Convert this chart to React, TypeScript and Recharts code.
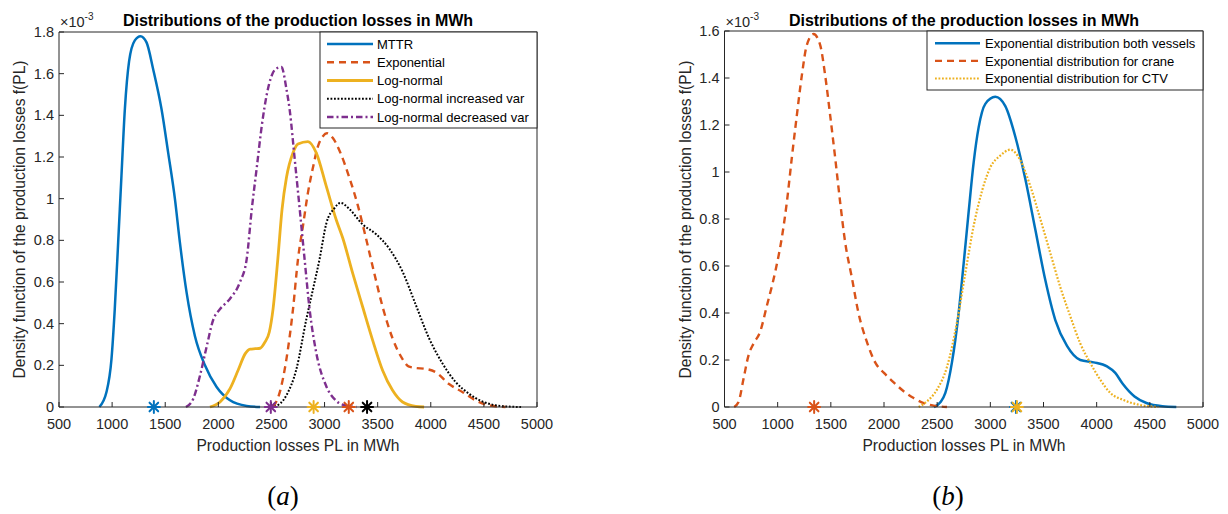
import React from "react";
import { ComposedChart, Line, Scatter, XAxis, YAxis } from "recharts";

type Pt = [number, number];

// x ticks shared by both panels, y ticks per panel (values are in units of 1e-3)
const xTicks = [500, 1000, 1500, 2000, 2500, 3000, 3500, 4000, 4500, 5000];
const yTicksA = [0, 0.2, 0.4, 0.6, 0.8, 1, 1.2, 1.4, 1.6, 1.8];
const yTicksB = [0, 0.2, 0.4, 0.6, 0.8, 1, 1.2, 1.4, 1.6];

// panel (a)
const mttr: Pt[] = [
  [880, 0], [947, 0.072], [994, 0.23], [1025, 0.47], [1057, 0.79], [1088, 1.11], [1120, 1.43],
  [1160, 1.66], [1214, 1.76], [1267, 1.78], [1324, 1.75], [1387, 1.62], [1465, 1.43], [1528, 1.22],
  [1591, 1.0], [1638, 0.79], [1701, 0.55], [1780, 0.34], [1874, 0.2], [1984, 0.096], [2110, 0.032],
  [2267, 0.005], [2393, 0],
];
const expo: Pt[] = [
  [2516, 0], [2578, 0.07], [2641, 0.23], [2703, 0.47], [2750, 0.71], [2797, 0.87], [2844, 1.03],
  [2891, 1.15], [2937, 1.25], [2985, 1.3], [3022, 1.314], [3080, 1.29], [3141, 1.23], [3234, 1.1],
  [3312, 0.97], [3390, 0.81], [3469, 0.64], [3547, 0.48], [3640, 0.33], [3734, 0.23], [3790, 0.195],
  [3850, 0.188], [3953, 0.183], [4047, 0.167], [4172, 0.11], [4297, 0.072], [4422, 0.032],
  [4547, 0.008], [4703, 0],
];
const logn: Pt[] = [
  [1921, 0], [2016, 0.024], [2110, 0.088], [2189, 0.18], [2252, 0.255], [2300, 0.278], [2350, 0.28],
  [2393, 0.282], [2437, 0.31], [2480, 0.36], [2515, 0.47], [2560, 0.71], [2600, 0.95], [2641, 1.1],
  [2703, 1.22], [2750, 1.262], [2844, 1.274], [2922, 1.22], [3016, 1.06], [3109, 0.9], [3172, 0.81],
  [3266, 0.64], [3359, 0.48], [3453, 0.32], [3547, 0.175], [3640, 0.08], [3734, 0.024],
  [3859, 0.003], [3937, 0],
];
const lognInc: Pt[] = [
  [2531, 0], [2641, 0.056], [2734, 0.18], [2828, 0.42], [2891, 0.565], [2953, 0.71], [3016, 0.88],
  [3094, 0.955], [3150, 0.98], [3234, 0.95], [3359, 0.876], [3484, 0.83], [3609, 0.76], [3734, 0.65],
  [3859, 0.49], [3984, 0.33], [4109, 0.21], [4234, 0.12], [4359, 0.064], [4484, 0.027],
  [4609, 0.008], [4734, 0.002], [4850, 0],
];
const lognDec: Pt[] = [
  [1695, 0], [1764, 0.04], [1827, 0.15], [1890, 0.29], [1953, 0.42], [2016, 0.47], [2110, 0.52],
  [2204, 0.6], [2267, 0.71], [2315, 0.95], [2362, 1.15], [2409, 1.35], [2456, 1.5], [2535, 1.62],
  [2594, 1.632], [2640, 1.53], [2672, 1.425], [2719, 1.19], [2766, 0.95], [2812, 0.71], [2859, 0.47],
  [2922, 0.26], [3016, 0.1], [3109, 0.03], [3203, 0.006], [3300, 0],
];
const meansA = [1393, 3228, 2897, 3400, 2494]; // same order as the legend

// panel (b)
const vessels: Pt[] = [
  [2470, 0], [2530, 0.02], [2577, 0.06], [2639, 0.19], [2702, 0.4], [2749, 0.61], [2796, 0.83],
  [2843, 1.04], [2890, 1.19], [2953, 1.29], [3047, 1.32], [3141, 1.28], [3235, 1.15], [3329, 0.97],
  [3423, 0.755], [3517, 0.54], [3611, 0.37], [3721, 0.26], [3846, 0.2], [3972, 0.19], [4097, 0.173],
  [4175, 0.145], [4243, 0.1], [4356, 0.045], [4468, 0.017], [4618, 0.003], [4749, 0],
];
const crane: Pt[] = [
  [591, 0], [632, 0.021], [679, 0.12], [726, 0.22], [773, 0.27], [835, 0.32], [898, 0.43],
  [977, 0.575], [1039, 0.72], [1086, 0.87], [1133, 1.06], [1180, 1.24], [1227, 1.41], [1274, 1.54],
  [1337, 1.587], [1400, 1.54], [1447, 1.41], [1494, 1.24], [1541, 1.06], [1588, 0.87], [1635, 0.7],
  [1698, 0.55], [1760, 0.4], [1839, 0.277], [1917, 0.19], [2000, 0.145], [2091, 0.105],
  [2185, 0.067], [2279, 0.038], [2373, 0.017], [2467, 0.006], [2592, 0],
];
const ctv: Pt[] = [
  [2326, 0], [2404, 0.024], [2498, 0.074], [2592, 0.17], [2686, 0.36], [2765, 0.57], [2843, 0.77],
  [2922, 0.92], [3000, 1.02], [3094, 1.07], [3188, 1.095], [3282, 1.05], [3376, 0.94], [3470, 0.8],
  [3564, 0.655], [3658, 0.51], [3752, 0.386], [3846, 0.27], [3940, 0.187], [4034, 0.116],
  [4128, 0.06], [4250, 0.03], [4393, 0.01], [4580, 0],
];
const meansB = [3241, 1343, 3250];

const namesA = ["MTTR", "Exponential", "Log-normal", "Log-normal increased var", "Log-normal decreased var"];
const namesB = [
  "Exponential distribution both vessels",
  "Exponential distribution for crane",
  "Exponential distribution for CTV",
];

const BLUE = "#0072BD";
const ORANGE = "#D95319";
const YELLOW = "#EDB120";
const PURPLE = "#7E2F8E";
const AXIS = "#262626";
const FONT = "'Liberation Sans', Arial, Helvetica, sans-serif";

interface Series {
  name: string;
  pts: Pt[];
  mean: number;
  color: string;
  dash?: string;
  width: number;
}

const seriesA: Series[] = [
  { name: namesA[0], pts: mttr, mean: meansA[0], color: BLUE, width: 2.5 },
  { name: namesA[1], pts: expo, mean: meansA[1], color: ORANGE, dash: "7 5", width: 2.4 },
  { name: namesA[2], pts: logn, mean: meansA[2], color: YELLOW, width: 2.8 },
  { name: namesA[3], pts: lognInc, mean: meansA[3], color: "#000000", dash: "1.8 1.7", width: 2 },
  { name: namesA[4], pts: lognDec, mean: meansA[4], color: PURPLE, dash: "6.5 3 2 3", width: 2.4 },
];

const seriesB: Series[] = [
  { name: namesB[0], pts: vessels, mean: meansB[0], color: BLUE, width: 2.5 },
  { name: namesB[1], pts: crane, mean: meansB[1], color: ORANGE, dash: "7 5", width: 2.4 },
  { name: namesB[2], pts: ctv, mean: meansB[2], color: YELLOW, dash: "1.8 1.7", width: 2.2 },
];

const toRows = (pts: Pt[]) => pts.map(([x, y]) => ({ x, y }));

function asterisk(color: string) {
  return (props: any) => {
    const { cx, cy } = props;
    const r = 6;
    const d = r * 0.72;
    return (
      <g stroke={color} strokeWidth={2} strokeLinecap="round">
        <line x1={cx - r} y1={cy} x2={cx + r} y2={cy} />
        <line x1={cx} y1={cy - r} x2={cx} y2={cy + r} />
        <line x1={cx - d} y1={cy - d} x2={cx + d} y2={cy + d} />
        <line x1={cx - d} y1={cy + d} x2={cx + d} y2={cy - d} />
      </g>
    );
  };
}

interface PanelProps {
  series: Series[];
  yTicks: number[];
  yMax: number;
  width: number;
  height: number;
  margin: { top: number; right: number; bottom: number; left: number };
}

function Panel({ series, yTicks, yMax, width, height, margin }: PanelProps) {
  const tickStyle = { fontSize: 14.5, fill: AXIS, fontFamily: FONT };
  return (
    <ComposedChart width={width} height={height} margin={margin}>
      <XAxis
        xAxisId="b"
        dataKey="x"
        type="number"
        domain={[500, 5000]}
        ticks={xTicks}
        interval={0}
        tickSize={-5}
        tickMargin={17}
        height={30}
        stroke={AXIS}
        tick={tickStyle}
      />
      <XAxis
        xAxisId="t"
        orientation="top"
        dataKey="x"
        type="number"
        domain={[500, 5000]}
        ticks={xTicks}
        interval={0}
        tickSize={-5}
        height={5}
        stroke={AXIS}
        tick={false}
      />
      <YAxis
        yAxisId="l"
        type="number"
        domain={[0, yMax]}
        ticks={yTicks}
        interval={0}
        tickSize={-5}
        tickMargin={10}
        width={40}
        stroke={AXIS}
        tick={tickStyle}
      />
      <YAxis
        yAxisId="r"
        orientation="right"
        type="number"
        domain={[0, yMax]}
        ticks={yTicks}
        interval={0}
        tickSize={-5}
        width={5}
        stroke={AXIS}
        tick={false}
      />
      {series.map((s) => (
        <Line
          key={s.name}
          xAxisId="b"
          yAxisId="l"
          data={toRows(s.pts)}
          dataKey="y"
          type="monotone"
          stroke={s.color}
          strokeWidth={s.width}
          strokeDasharray={s.dash}
          dot={false}
          activeDot={false}
          isAnimationActive={false}
        />
      ))}
      {series.map((s) => (
        <Scatter
          key={s.name + "-mean"}
          xAxisId="b"
          yAxisId="l"
          data={[{ x: s.mean, y: 0 }]}
          dataKey="y"
          shape={asterisk(s.color)}
          isAnimationActive={false}
        />
      ))}
    </ComposedChart>
  );
}

function Legend({ series, x, y, w, h, rowY, step, lineX1, lineX2, textX }: any) {
  return (
    <g>
      <rect x={x} y={y} width={w} height={h} fill="#fff" stroke={AXIS} strokeWidth={1} />
      {series.map((s: Series, i: number) => {
        const cy = rowY + i * step;
        return (
          <g key={s.name}>
            <line x1={lineX1} y1={cy} x2={lineX2} y2={cy} stroke={s.color} strokeWidth={s.width} strokeDasharray={s.dash} />
            <text x={textX} y={cy + 4.6} fontSize={13} fill="#000" fontFamily={FONT}>
              {s.name}
            </text>
          </g>
        );
      })}
    </g>
  );
}

function Labels({ cx, plotLeft, yLabelX, caption, captionX }: any) {
  return (
    <g fontFamily={FONT}>
      <text x={cx} y={26} textAnchor="middle" fontSize={16} fontWeight="bold" fill="#000">
        Distributions of the production losses in MWh
      </text>
      <text x={plotLeft + 1} y={27} fontSize={14.5} fill={AXIS}>
        ×10
        <tspan dy={-7} fontSize={10}>-3</tspan>
      </text>
      <text
        transform={`translate(${yLabelX},219.5) rotate(-90)`}
        textAnchor="middle"
        dominantBaseline="central"
        fontSize={15.6}
        fill={AXIS}
      >
        Density function of the production losses f(PL)
      </text>
      <text x={cx} y={451} textAnchor="middle" fontSize={15.6} fill={AXIS}>
        Production losses PL in MWh
      </text>
      <text x={captionX} y={505} textAnchor="middle" fontSize={27} fill="#000" fontFamily="'Liberation Serif', 'Times New Roman', serif">
        (<tspan fontStyle="italic">{caption}</tspan>)
      </text>
    </g>
  );
}

export default function App() {
  return (
    <div style={{ position: "absolute", left: 0, top: 0, width: 1228, height: 514, background: "#fff", overflow: "hidden" }}>
      <div style={{ position: "absolute", left: 0, top: 0 }}>
        <Panel
          series={seriesA}
          yTicks={yTicksA}
          yMax={1.8}
          width={560}
          height={470}
          margin={{ top: 27, right: 18, bottom: 33, left: 19 }}
        />
      </div>
      <div style={{ position: "absolute", left: 640, top: 0 }}>
        <Panel
          series={seriesB}
          yTicks={yTicksB}
          yMax={1.6}
          width={588}
          height={470}
          margin={{ top: 26, right: 20, bottom: 33, left: 44.5 }}
        />
      </div>
      <svg width={1228} height={514} style={{ position: "absolute", left: 0, top: 0, pointerEvents: "none" }}>
        <Labels cx={298} plotLeft={59} yLabelX={19} caption="a" captionX={283} />
        <Labels cx={964} plotLeft={724.5} yLabelX={685} caption="b" captionX={948} />
        <Legend series={seriesA} x={320} y={32} w={217} h={96} rowY={44} step={18.25} lineX1={327} lineX2={373} textX={377} />
        <Legend series={seriesB} x={927} y={31} w={276} h={59} rowY={43.3} step={17.6} lineX1={935} lineX2={980} textX={985} />
      </svg>
    </div>
  );
}
